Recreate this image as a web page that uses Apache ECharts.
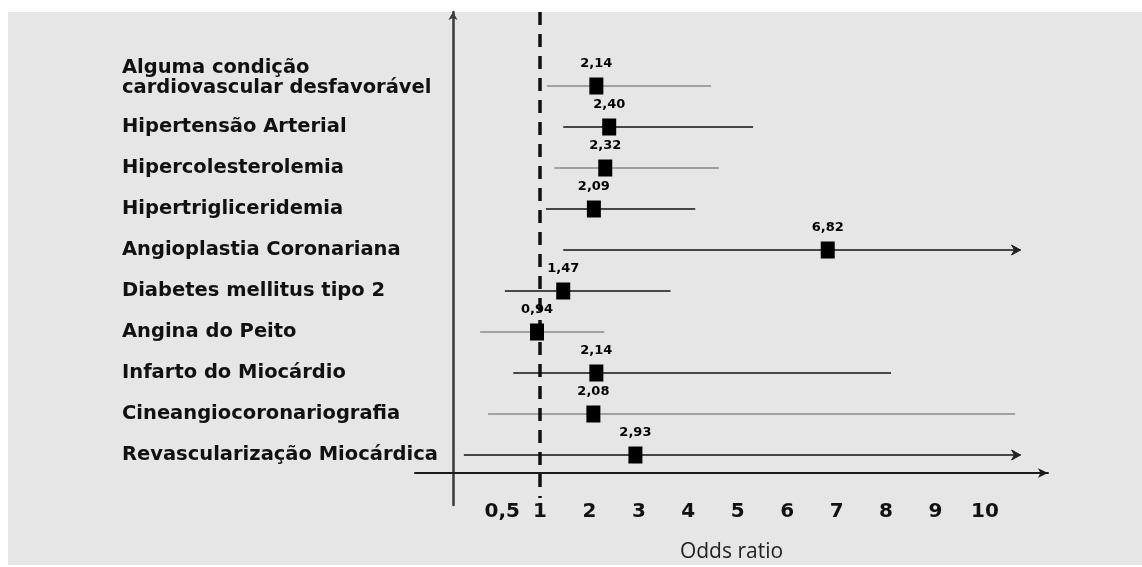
<!DOCTYPE html>
<html><head><meta charset="utf-8">
<script src="https://cdn.jsdelivr.net/npm/echarts@6/dist/echarts.min.js"></script>
<style>html,body{margin:0;padding:0;background:#fff}#c{width:1142px;height:567px}</style>
</head><body><div id="c"></div>
<script>
// ---- data ----
const categories = [
  'Alguma condição\ncardiovascular desfavorável',
  'Hipertensão Arterial',
  'Hipercolesterolemia',
  'Hipertrigliceridemia',
  'Angioplastia Coronariana',
  'Diabetes mellitus tipo 2',
  'Angina do Peito',
  'Infarto do Miocárdio',
  'Cineangiocoronariografia',
  'Revascularização Miocárdica'
];
const oddsRatio = [2.14, 2.40, 2.32, 2.09, 6.82, 1.47, 0.94, 2.14, 2.08, 2.93];
const ciLow     = [1.14, 1.47, 1.29, 1.12, 1.47, 0.29, -0.21, 0.46, -0.05, -0.54];
const ciHigh    = [4.46, 5.31, 4.62, 4.14, 10.72, 3.64, 2.30, 8.10, 10.61, 10.72];
const ciOpenEnded = [false, false, false, false, true, false, false, false, false, true];
const xTicks = [0.5, 1, 2, 3, 4, 5, 6, 7, 8, 9, 10];
const referenceOR = 1;
const xAxisTitle = 'Odds ratio';

// ---- layout / style ----
const n = categories.length;
const rowValue = i => n - i;               // top row = n, bottom row = 1
const X_MIN = -1.528, X_MAX = 11.275;
const Y_MIN = -0.2195, Y_MAX = 11.805;
const lightRows = [0, 2, 6, 8];
const fmt = v => v.toFixed(2).replace('.', ',');
const fmtTick = v => String(v).replace('.', ',');

const chart = echarts.init(document.getElementById('c'), null, {renderer: 'canvas'});
chart.setOption({
  animation: false,
  backgroundColor: '#ffffff',
  graphic: {elements: [{
    type: 'rect', left: 8, top: 12, z: -100, silent: true,
    shape: {width: 1134, height: 553}, style: {fill: '#e6e6e6'}
  }]},
  grid: {left: 415, right: 94, top: 12, bottom: 62, containLabel: false, outerBoundsMode: 'none'},
  xAxis: {
    type: 'value', min: X_MIN, max: X_MAX, offset: -32,
    splitLine: {show: false},
    axisTick: {show: false},
    axisLine: {show: true, onZero: false, symbol: ['none', 'arrow'], symbolSize: [7, 10],
      lineStyle: {color: '#1a1a1a', width: 2}},
    axisLabel: {
      customValues: xTicks,
      formatter: v => v < 1 ? '{s|' + fmtTick(v) + '}' : fmtTick(v),
      rich: {s: {padding: [0, 26, 0, 0], fontFamily: 'DejaVu Sans', fontWeight: 'bold', fontSize: 20, color: '#111'}},
      margin: 29,
      fontFamily: 'DejaVu Sans', fontWeight: 'bold', fontSize: 20, color: '#111'
    },
    name: xAxisTitle, nameLocation: 'middle', nameGap: 69,
    nameTextStyle: {fontFamily: 'Open Sans', fontSize: 21, color: '#222'}
  },
  yAxis: {
    type: 'value', min: Y_MIN, max: Y_MAX, offset: -38,
    splitLine: {show: false},
    axisTick: {show: false},
    axisLine: {show: true, onZero: false, symbol: ['none', 'arrow'], symbolSize: [7, 8],
      lineStyle: {color: '#3a3a3a', width: 2.5}},
    axisLabel: {
      customValues: categories.map((c, i) => rowValue(i) + (c.includes('\n') ? 0.2 : 0)),
      formatter: v => categories[Math.round(n - v)] || '',
      align: 'left', margin: 331, lineHeight: 20,
      fontFamily: 'DejaVu Sans', fontWeight: 'bold', fontSize: 19.5, color: '#111'
    }
  },
  series: [
    {
      type: 'custom', z: 2,
      encode: {x: [0, 2], y: 1},
      data: categories.map((c, i) => [ciLow[i], rowValue(i), ciHigh[i], ciOpenEnded[i] ? 1 : 0]),
      renderItem(params, api) {
        const v = api.value(1);
        const p0 = api.coord([api.value(0), v]);
        const p1 = api.coord([api.value(2), v]);
        const light = lightRows.includes(params.dataIndex);
        const style = {stroke: light ? '#8a8a8a' : '#474747', lineWidth: light ? 1.6 : 2.2, fill: null};
        const children = [{type: 'line', shape: {x1: p0[0], y1: p0[1], x2: p1[0], y2: p1[1]}, style}];
        if (api.value(3)) {
          children.push({type: 'polygon',
            shape: {points: [[p1[0] - 9, p1[1] - 5], [p1[0], p1[1]], [p1[0] - 9, p1[1] + 5], [p1[0] - 6, p1[1]]]},
            style: {fill: '#222', stroke: '#222', lineWidth: 1}});
        }
        return {type: 'group', children};
      }
    },
    {
      type: 'scatter', z: 4,
      data: oddsRatio.map((v, i) => [v, rowValue(i)]),
      symbol: 'rect', symbolSize: [14, 17],
      itemStyle: {color: '#000', opacity: 1},
      label: {show: true, position: 'top', distance: 7,
        formatter: p => fmt(p.value[0]),
        fontFamily: 'DejaVu Sans', fontWeight: 'bold', fontSize: 13, color: '#000'},
      markLine: {
        silent: true, symbol: 'none', z: 3,
        label: {show: false},
        lineStyle: {type: [13, 9], width: 3.5, color: '#111', opacity: 1},
        data: [[{coord: [referenceOR, Y_MAX]}, {coord: [referenceOR, -0.05]}]]
      }
    }
  ]
});
</script></body></html>
